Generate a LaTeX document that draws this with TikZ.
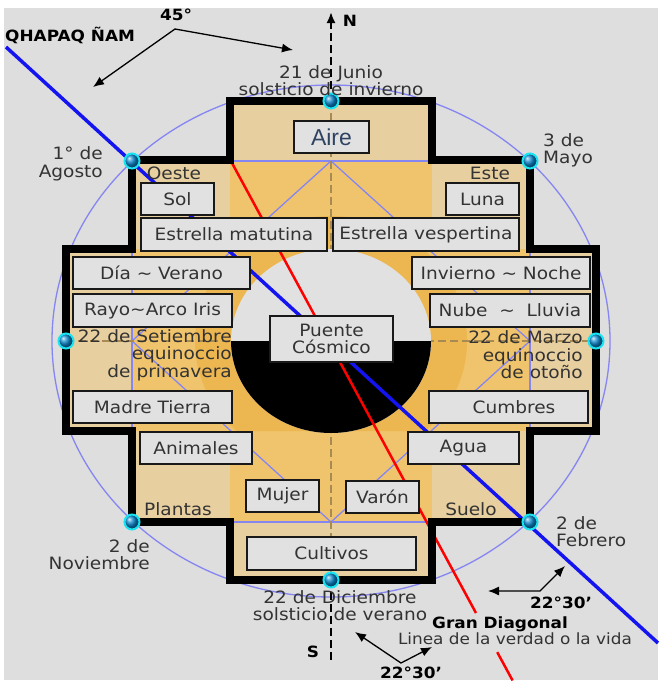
\documentclass[tikz,border=0pt]{standalone}
\usepackage{fontspec}
\setmainfont[FakeStretch=1.09]{DejaVu Sans}
\newfontfamily\airefont{Liberation Sans}
\usetikzlibrary{arrows.meta}
\usetikzlibrary{calc}
\definecolor{fondo}{HTML}{DEDEDE}
\definecolor{griscaja}{HTML}{E1E1E1}
\definecolor{ocre}{HTML}{E8CFA0}
\definecolor{oro}{HTML}{F0C46C}
\definecolor{anillo}{HTML}{ECB650}
\definecolor{lila}{HTML}{8686F2}
\definecolor{pardo}{HTML}{A88B52}
\definecolor{azulq}{HTML}{1414F0}
\definecolor{texto}{HTML}{333333}
\definecolor{cian}{HTML}{18E4F2}
\definecolor{bolita}{HTML}{0A86CC}
\definecolor{azulaire}{HTML}{2E4262}
\def\cruz{(230,101) -- (432,101) -- (432,160) -- (530,160) -- (530,249) -- (596,249) -- (596,431) -- (530,431) -- (530,522) -- (432,522) -- (432,580) -- (230,580) -- (230,522) -- (132,522) -- (132,431) -- (66,431) -- (66,249) -- (132,249) -- (132,160) -- (230,160) -- cycle}

\begin{document}
\begin{tikzpicture}[x=1pt,y=-1pt,>={Latex[length=11pt,width=9pt]},
        caja/.style={draw=black!90, line width=2pt, fill=griscaja, text=texto, inner sep=0pt, minimum height=32pt, font=\fontsize{17}{17.5}\selectfont},
        rotulo/.style={text=texto, inner sep=0pt, font=\fontsize{17}{17.5}\selectfont},
        negrita/.style={text=black, inner sep=0pt, font=\bfseries\fontsize{15.5}{17}\selectfont},
        punto/.style={circle, draw=cian, line width=2pt, ball color=bolita, minimum size=15pt, inner sep=0pt},
        lineal/.style={lila, line width=1.3pt},
        eje/.style={black, line width=2pt, dash pattern=on 8pt off 4pt},
        ejeint/.style={pardo, line width=2.5pt, dash pattern=on 8pt off 4pt},
        flecha/.style={black, line width=1.3pt, <->}]
        \fill[white] (0,0) rectangle (666,686);
        \useasboundingbox (0,0) rectangle (666,686);
        \fill[fondo] (4,8) rectangle (658,680);

        \coordinate (cc) at (331,341);
        \coordinate (dN) at (331,101);
        \coordinate (dS) at (331,580);
        \coordinate (dW) at (66,341);
        \coordinate (dE) at (596,341);
        \coordinate (dNW) at (132,161);
        \coordinate (dNE) at (530,161);
        \coordinate (dSW) at (132,522);
        \coordinate (dSE) at (530,522);
        \coordinate (rN) at (331,161);
        \coordinate (rS) at (331,522);
        \coordinate (rW) at (132,341);
        \coordinate (rE) at (530,341);

        \draw[lineal] (cc) ellipse [x radius=279, y radius=256];
        \fill[ocre] \cruz;
        \fill[oro] (230,160) rectangle (432,522);
        \fill[oro] (132,249) rectangle (530,431);
        \begin{scope}
            \clip (230,160) -- (432,160) -- (432,249) -- (530,249) -- (530,431) -- (132,431) -- (132,249) -- (230,249) -- cycle;
            \fill[anillo] (cc) ellipse [x radius=136, y radius=125];
        \end{scope}
        \draw[lineal] (dNW) rectangle (dSE);
        \draw[lineal] (rN) -- (rW) -- (rS) -- (rE) -- cycle;
        \draw[ejeint] (dW) -- (dE);
        \draw[ejeint] (dN) -- (dS);

        \fill[griscaja] (cc) ellipse [x radius=100, y radius=92];
        \fill[black] ($(cc)+(-100,0)$) arc [start angle=180, end angle=0, x radius=100, y radius=92] -- cycle;

        \coordinate (qs) at (6,47);
        \coordinate (qe) at (658,643);
        \draw[azulq, line width=3.5pt] (qs) -- (qe);
        \coordinate (rs) at (232,163);
        \coordinate (re) at (476,613);
        \draw[red, line width=2.5pt] (rs) -- (re);
        \draw[red, line width=2.5pt] ($(rs)!1.087!(re)$) -- ($(rs)!1.15!(re)$);

        \draw[line width=8pt] \cruz;

        \node[caja, minimum width=75pt, font=\airefont\fontsize{23}{24}\selectfont, text=azulaire] (aire) at (331.5,137) {Aire};
        \node[caja, minimum width=73pt] (sol) at (177.5,199) {Sol};
        \node[caja, minimum width=73pt] (luna) at (482.5,199) {Luna};
        \node[caja, minimum width=186pt, minimum height=33pt] (matutina) at (234,234.5) {Estrella matutina};
        \node[caja, minimum width=186pt, minimum height=33pt] (vespertina) at (426,234.5) {Estrella vespertina};
        \node[caja, minimum width=177pt] (dia) at (161.5,273) {Día \textasciitilde{} Verano\hspace{16pt}};
        \node[caja, minimum width=178pt] (invierno) at (501,273) {Invierno \textasciitilde{} Noche};
        \node[caja, minimum width=159pt, minimum height=33pt] (rayo) at (152.5,310.5) {Rayo\textasciitilde{}Arco Iris};
        \node[caja, minimum width=160pt, minimum height=33pt] (nube) at (510,310.5) {Nube\ \ \textasciitilde\ \ Lluvia};
        \node[caja, minimum width=159pt] (madre) at (152.5,407) {Madre Tierra\hspace{20pt}};
        \node[caja, minimum width=159pt] (cumbres) at (508.5,407) {\hspace{11pt}Cumbres};
        \node[caja, minimum width=112pt] (animales) at (196,448) {Animales};
        \node[caja, minimum width=111pt] (agua) at (463.5,448) {Agua};
        \node[caja, minimum width=73pt] (mujer) at (282.5,496) {Mujer};
        \node[caja, minimum width=73pt] (varon) at (382.5,497) {Varón};
        \node[caja, minimum width=169pt, minimum height=33pt] (cultivos) at (331.5,553.5) {Cultivos};
        \node[caja, minimum width=123pt, minimum height=46pt, align=center] (puente) at (331.5,339) {Puente\\Cósmico};

        \coordinate (nN) at (331,12);
        \coordinate (nS) at (331,662);
        \draw[eje, ->] (dN) -- (nN);
        \draw[eje] (dS) -- (nS);

        \foreach \d in {dN,dS,dW,dE,dNW,dNE,dSW,dSE}
            \node[punto] (p\d) at (\d) {};

        \node[negrita, anchor=west] (qhapaq) at (5,35) {QHAPAQ ÑAM};
        \node[negrita] (grados) at (176,15) {45°};
        \node[negrita] (norte) at (350,21) {N};
        \node[negrita] (sur) at (313,652) {S};
        \node[rotulo, align=center] (junio) at (331,80.5) {21 de Junio\\solsticio de invierno};
        \node[rotulo, align=center] (diciembre) at (340,605.5) {22 de Diciembre\\solsticio de verano};
        \node[rotulo, align=right, anchor=east] (agosto) at (103,164) {1° de\\Agosto};
        \node[rotulo, align=left, anchor=west] (mayo) at (543,150.5) {3 de\\Mayo};
        \node[rotulo, align=right, anchor=east] (noviembre) at (150,554.5) {2 de\\Noviembre};
        \node[rotulo, align=left, anchor=west] (febrero) at (556,531.5) {2 de\\Febrero};
        \node[rotulo, align=right, anchor=east] (setiembre) at (232,355) {22 de Setiembre\\equinoccio\\de primavera};
        \node[rotulo, align=right, anchor=east] (marzo) at (583,355) {22 de Marzo\\equinoccio\\de otoño};
        \node[rotulo] (oeste) at (174,173) {Oeste};
        \node[rotulo] (este) at (490,173) {Este};
        \node[rotulo] (plantas) at (178,509) {Plantas};
        \node[rotulo] (suelo) at (471,509) {Suelo};
        \node[negrita] (gran) at (500,624) {Gran Diagonal};
        \node[rotulo, font=\fontsize{15.5}{17}\selectfont] (linea) at (515,639) {Linea de la verdad o la vida};
        \node[negrita] (ang1) at (561,603) {22°30'};
        \node[negrita] (ang2) at (411,673) {22°30'};

        \coordinate (a45i) at (93,87);
        \coordinate (a45v) at (175,29);
        \coordinate (a45d) at (293,50);
        \draw[flecha] (a45i) -- (a45v) -- (a45d);
        \coordinate (b1i) at (488,591);
        \coordinate (b1v) at (540,591);
        \coordinate (b1d) at (565,566);
        \draw[flecha] (b1i) -- (b1v) -- (b1d);
        \coordinate (b2i) at (355,632);
        \coordinate (b2v) at (401,663);
        \coordinate (b2d) at (432,647);
        \draw[flecha] (b2i) -- (b2v) -- (b2d);
    \end{tikzpicture}
\end{document}
